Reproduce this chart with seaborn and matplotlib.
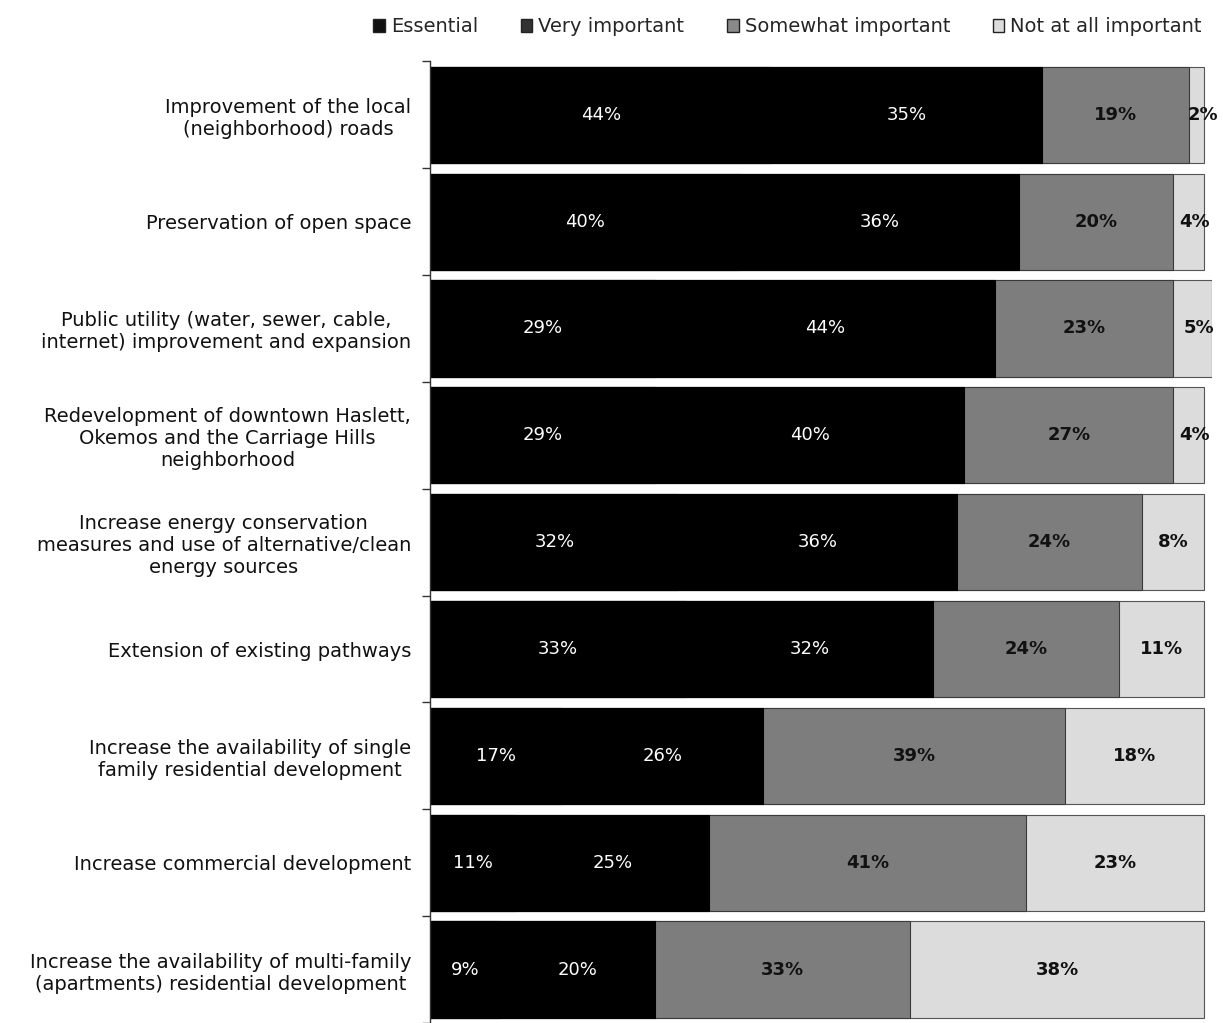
import matplotlib
matplotlib.use("Agg")
import matplotlib.pyplot as plt
from matplotlib.patches import Patch
import seaborn as sns
import pandas as pd
import numpy as np

categories = [
    "Improvement of the local\n(neighborhood) roads",
    "Preservation of open space",
    "Public utility (water, sewer, cable,\ninternet) improvement and expansion",
    "Redevelopment of downtown Haslett,\nOkemos and the Carriage Hills\nneighborhood",
    "Increase energy conservation\nmeasures and use of alternative/clean\nenergy sources",
    "Extension of existing pathways",
    "Increase the availability of single\nfamily residential development",
    "Increase commercial development",
    "Increase the availability of multi-family\n(apartments) residential development",
]
series_names = ["Essential", "Very important", "Somewhat important", "Not at all important"]
essential = [44, 40, 29, 29, 32, 33, 17, 11, 9]
very_important = [35, 36, 44, 40, 36, 32, 26, 25, 20]
somewhat_important = [19, 20, 23, 27, 24, 24, 39, 41, 33]
not_important = [2, 4, 5, 4, 8, 11, 18, 23, 38]

colors = ["#000000", "#000000", "#7d7d7d", "#dcdcdc"]
legend_colors = ["#111111", "#333333", "#8a8a8a", "#dcdcdc"]
edges = ["#000000", "#000000", "#3a3a3a", "#555555"]
text_colors = ["white", "white", "#111111", "#111111"]

sns.set_theme(style="white")
plt.rcParams["font.family"] = ["DejaVu Sans"]

fig = plt.figure(figsize=(12.23, 10.23), dpi=100)
ax = fig.add_axes([0.352, 0.0, 0.639, 0.94])

values = [essential, very_important, somewhat_important, not_important]
cums = np.cumsum(np.array(values), axis=0)

# draw cumulative totals from the longest to the shortest so each series sits on top
for i in range(3, -1, -1):
    df = pd.DataFrame({"category": categories, "value": cums[i]})
    sns.barplot(data=df, x="value", y="category", orient="h", color=colors[i],
                width=0.9, ax=ax, saturation=1, edgecolor=edges[i], linewidth=0.8)

for i in range(4):
    starts = cums[i] - np.array(values[i])
    for j, v in enumerate(values[i]):
        xc = starts[j] + v / 2
        if i == 3 and v < 6:
            xc = min(starts[j] + v / 2 + 0.8, 100.3)
        ax.text(xc, j, f"{v}%", ha="center", va="center", fontsize=13,
                color=text_colors[i], fontweight="bold" if i >= 2 else "normal")

ax.set_xlim(0, 101)
ax.set_ylim(8.5, -0.5)
ax.set_xlabel("")
ax.set_ylabel("")
ax.set_xticks([])
ax.tick_params(axis="y", which="major", labelsize=14, pad=14, length=0)
for lbl in ax.get_yticklabels():
    lbl.set_multialignment("center")
    lbl.set_color("#111111")

for s in ["top", "right", "bottom"]:
    ax.spines[s].set_visible(False)
ax.spines["left"].set_color("#333333")
ax.spines["left"].set_linewidth(1.0)
ax.set_yticks(np.arange(-0.5, 9.0, 1.0), minor=True)
ax.tick_params(axis="y", which="minor", left=True, length=6, color="#333333",
               width=1, direction="out")

handles = [Patch(facecolor=legend_colors[k], edgecolor="#222222", label=series_names[k])
           for k in range(4)]
fig.legend(handles=handles, loc="upper right", bbox_to_anchor=(0.997, 1.0), ncol=4,
           frameon=False, fontsize=14, handlelength=0.6, handleheight=0.6,
           handletextpad=0.3, columnspacing=2.2)

fig.savefig("out.png", dpi=100)
